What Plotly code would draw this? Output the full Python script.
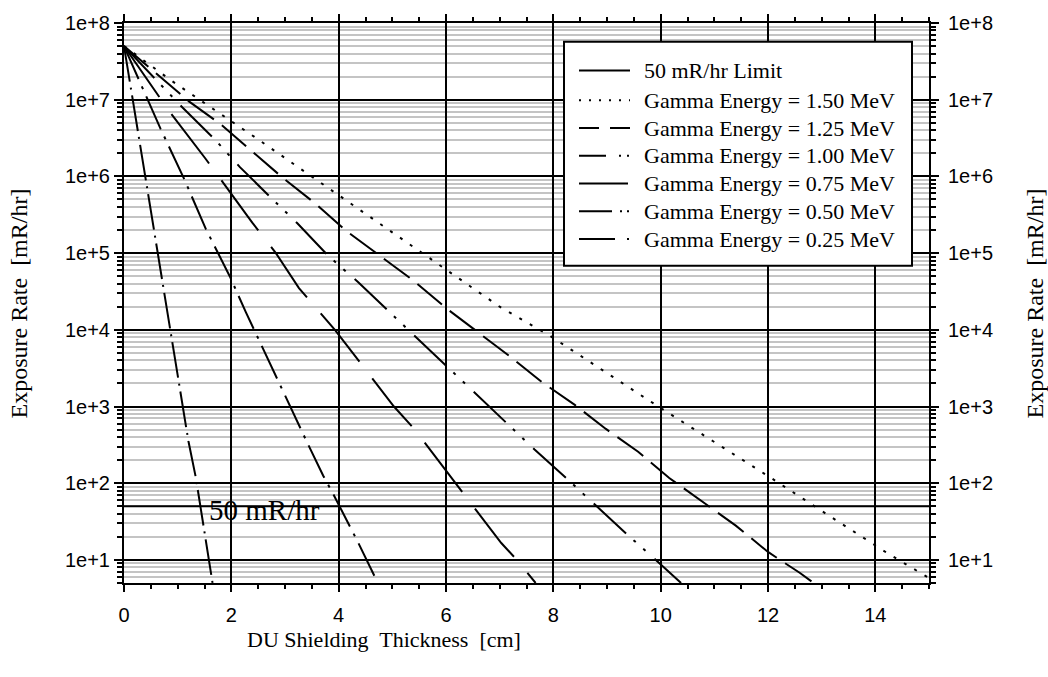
import plotly.graph_objects as go
import math

# ---------------- data ----------------
limit_x = [0, 15]
limit_y = [50, 50]

x_150 = [0, 0.90, 2.51, 4.30, 5.02, 5.76, 7.00, 7.92, 9.89, 10.97, 12.05, 13.13, 14.22, 15.0]
y_150 = [5.0e7, 1.74e7, 3.0e6, 4.1e5, 1.8e5, 8.1e4, 2.0e4, 8.5e3, 1.07e3, 355, 118, 38, 12.3, 5.8]

x_125 = [0, 1.21, 1.80, 2.39, 2.98, 3.57, 4.16, 4.78, 5.39, 6.01, 6.60, 7.19, 7.78, 8.40,
         8.98, 9.58, 10.16, 10.79, 11.40, 12.00, 12.59, 12.85]
y_125 = [5.0e7, 9.5e6, 4.8e6, 2.1e6, 9.3e5, 4.4e5, 1.9e5, 9.1e4, 4.4e4, 1.9e4, 9.3e3, 4.5e3,
         2.1e3, 1.05e3, 510, 257, 117, 56, 28, 12.7, 6.8, 5.0]

x_100 = [0, 1.09, 1.68, 2.16, 2.76, 3.23, 3.80, 4.36, 4.95, 5.48, 6.04, 6.57, 7.16, 7.65,
         8.28, 8.80, 9.39, 9.91, 10.38]
y_100 = [5.0e7, 7.9e6, 3.1e6, 1.32e6, 5.1e5, 2.45e5, 9.3e4, 4.2e4, 1.7e4, 7.6e3, 3.2e3,
         1.45e3, 590, 275, 110, 50, 21, 10, 5.0]

x_075 = [0, 0.84, 1.52, 1.77, 2.39, 2.83, 3.26, 3.93, 5.03, 5.42, 5.98, 6.32, 7.03, 7.31, 7.67]
y_075 = [5.0e7, 7.1e6, 1.7e6, 9.8e5, 2.5e5, 1.0e5, 3.5e4, 1.0e4, 1.0e3, 500, 150, 74, 16.6, 10.2, 5.0]

x_050 = [0, 0.68, 1.12, 1.52, 1.97, 2.27, 3.43, 3.71, 3.90, 4.21, 4.36, 4.73]
y_050 = [5.0e7, 4.2e6, 9.3e5, 2.1e5, 5.0e4, 1.7e4, 320, 126, 72, 28, 17, 5.0]

x_025 = [0, 0.25, 0.43, 0.62, 0.81, 1.20, 1.34, 1.49, 1.65]
y_025 = [5.0e7, 4.2e6, 7.1e5, 1.12e5, 1.7e4, 355, 117, 27, 5.0]

legend_labels = ["50 mR/hr Limit",
                 "Gamma Energy = 1.50 MeV", "Gamma Energy = 1.25 MeV", "Gamma Energy = 1.00 MeV",
                 "Gamma Energy = 0.75 MeV", "Gamma Energy = 0.50 MeV", "Gamma Energy = 0.25 MeV"]
series_x = [x_150, x_125, x_100, x_075, x_050, x_025]
series_y = [y_150, y_125, y_100, y_075, y_050, y_025]

y_tick_vals = [1e1, 1e2, 1e3, 1e4, 1e5, 1e6, 1e7, 1e8]
y_tick_text = ["1e+1", "1e+2", "1e+3", "1e+4", "1e+5", "1e+6", "1e+7", "1e+8"]

# ---------------- styles ----------------
plot_dash = ["3px,9px", "32px,10px", "44px,10px,3px,10px,3px,12px", "62px,21px",
             "36px,8px,3px,8px", "36px,6px,2px,6px"]
legend_dash = ["solid", "2px,8px", "20px,11px", "27px,13px,2px,6px,2px,10px", "49px,20px",
               "33px,8px,2px,5px,2px,10px", "36px,12px,2px,10px"]

SERIF = "Liberation Serif"
SANS = "Liberation Sans"

# plot-area geometry in pixels (for placing the boxed legend and titles)
L, R, T, B = 124, 929, 18, 583


def px(xp):
    return (xp - L) / (R - L)


def py(yp):
    return (B - yp) / (B - T)


fig = go.Figure()

fig.add_trace(go.Scatter(x=limit_x, y=limit_y, mode="lines", name=legend_labels[0],
                         line=dict(color="black", width=2), showlegend=False))
for xs, ys, d, nm in zip(series_x, series_y, plot_dash, legend_labels[1:]):
    fig.add_trace(go.Scatter(x=xs, y=ys, mode="lines", name=nm,
                             line=dict(color="black", width=2, dash=d),
                             showlegend=False))

# helper trace so the right-hand axis is drawn
fig.add_trace(go.Scatter(x=[None], y=[None], yaxis="y2", showlegend=False, hoverinfo="skip"))

y_range = [math.log10(5), 8]

# ---- boxed legend (drawn with shapes + text) ----
shapes = [dict(type="rect", xref="paper", yref="paper",
               x0=px(564), x1=px(912), y0=py(263), y1=py(37),
               line=dict(color="black", width=2), fillcolor="white", layer="above")]
annotations = []
row_y = [66, 96, 124, 152, 180, 208, 236]
for lab, d, ry in zip(legend_labels, legend_dash, row_y):
    shapes.append(dict(type="line", xref="paper", yref="paper",
                       x0=px(579), x1=px(630), y0=py(ry), y1=py(ry),
                       line=dict(color="black", width=2, dash=d), layer="above"))
    annotations.append(dict(text=lab, x=px(642), y=py(ry), xref="paper", yref="paper",
                            showarrow=False, xanchor="left", yanchor="middle",
                            font=dict(family=SERIF, size=22, color="black")))

annotations += [
    dict(text="50 mR/hr", x=2.61, y=1.655, xref="x", yref="y", showarrow=False,
         font=dict(family=SERIF, size=29, color="black"), xanchor="center", yanchor="middle"),
    dict(text="DU Shielding\u00a0 Thickness\u00a0 [cm]", x=px(384), y=py(640),
         xref="paper", yref="paper", showarrow=False,
         font=dict(family=SERIF, size=22, color="black"), xanchor="center", yanchor="middle"),
    dict(text="Exposure Rate\u00a0 [mR/hr]", x=px(19), y=py(301), textangle=-90,
         xref="paper", yref="paper", showarrow=False,
         font=dict(family=SERIF, size=24, color="black"), xanchor="center", yanchor="middle"),
    dict(text="Exposure Rate\u00a0 [mR/hr]", x=px(1035), y=py(301), textangle=-90,
         xref="paper", yref="paper", showarrow=False,
         font=dict(family=SERIF, size=24, color="black"), xanchor="center", yanchor="middle"),
]

fig.update_layout(
    width=1048, height=677,
    margin=dict(l=L, r=1048 - R, t=T, b=677 - B),
    paper_bgcolor="white", plot_bgcolor="white",
    font=dict(family=SANS, color="black"),
    showlegend=False,
    xaxis=dict(
        range=[0, 15], tickmode="linear", tick0=0, dtick=2,
        ticks="outside", ticklen=7, tickwidth=2, tickcolor="black",
        showline=True, linewidth=2, linecolor="black", mirror="ticks",
        showgrid=True, gridcolor="black", gridwidth=2, zeroline=False,
        tickfont=dict(family=SANS, size=20, color="black"),
        ticklabelstandoff=6,
        minor=dict(dtick=0.5, tick0=0, ticks="outside", ticklen=4, tickwidth=2,
                   tickcolor="black", showgrid=False),
    ),
    yaxis=dict(
        type="log", range=y_range, tickmode="array",
        tickvals=y_tick_vals, ticktext=y_tick_text,
        ticks="outside", ticklen=8, tickwidth=2, tickcolor="black",
        showline=True, linewidth=2, linecolor="black", mirror="ticks",
        showgrid=True, gridcolor="black", gridwidth=2, zeroline=False,
        tickfont=dict(family=SANS, size=20, color="black"),
        minor=dict(dtick="D1", ticks="outside", ticklen=5, tickwidth=1.5,
                   tickcolor="black", showgrid=True, gridcolor="#c4c4c4", gridwidth=2),
    ),
    yaxis2=dict(
        type="log", range=y_range, overlaying="y", side="right",
        tickmode="array", tickvals=y_tick_vals, ticktext=y_tick_text,
        ticks="", showline=False, showgrid=False, zeroline=False,
        ticklabelstandoff=18,
        tickfont=dict(family=SANS, size=20, color="black"),
    ),
    shapes=shapes,
    annotations=annotations,
)

fig.write_html("out.html")
